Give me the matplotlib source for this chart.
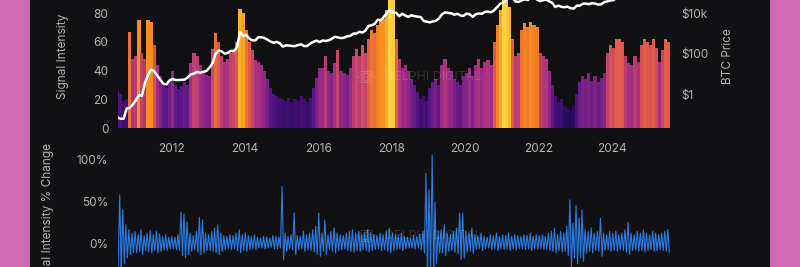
import numpy as np
import pandas as pd
import matplotlib
matplotlib.use("Agg")
import matplotlib.pyplot as plt
import matplotlib.dates as mdates
from matplotlib.colors import Normalize, LinearSegmentedColormap
from matplotlib.patches import Rectangle, Circle

plt.rcParams['font.family'] = ['Inter', 'DejaVu Sans']

# ============ data (monthly, Jul 2010 - Jul 2025) ============
signal = [
    # 2010 Jul-Dec
    26, 24, 19, 20, 67, 48,
    # 2011
    50, 75, 52, 48, 75, 74, 58, 44, 36, 30, 28, 33,
    # 2012
    40, 30, 27, 29, 32, 30, 45, 52, 50, 44, 40, 37,
    # 2013
    36, 55, 66, 60, 50, 46, 48, 52, 54, 60, 83, 80,
    # 2014
    68, 60, 54, 47, 46, 44, 40, 34, 28, 24, 22, 21,
    # 2015
    20, 19, 21, 18, 20, 19, 22, 20, 18, 21, 28, 35,
    # 2016
    42, 42, 50, 40, 38, 45, 54, 40, 38, 37, 42, 50,
    # 2017
    55, 50, 58, 52, 62, 68, 66, 72, 75, 76, 82, 92,
    # 2018
    90, 62, 48, 42, 44, 40, 34, 30, 25, 20, 22, 19,
    # 2019
    28, 32, 34, 30, 44, 48, 42, 40, 34, 32, 30, 36,
    # 2020
    38, 42, 36, 44, 48, 42, 46, 47, 44, 60, 72, 82,
    # 2021
    92, 90, 84, 62, 50, 52, 68, 73, 70, 74, 72, 70,
    # 2022
    52, 50, 48, 40, 30, 22, 18, 20, 15, 14, 12, 16,
    # 2023
    24, 32, 36, 34, 38, 33, 36, 32, 35, 38, 52, 58,
    # 2024
    56, 62, 62, 60, 50, 45, 44, 50, 46, 58, 62, 60,
    # 2025 Jan-Jul
    58, 62, 56, 46, 54, 62, 60,
]

btc_price = [
    0.07, 0.06, 0.06, 0.19, 0.21, 0.30,
    0.5, 0.9, 0.8, 3.5, 8.7, 16, 13.5, 8.2, 5.1, 3.2, 2.97, 4.7,
    5.5, 4.9, 4.9, 5.0, 5.2, 6.7, 9.4, 10.2, 12.4, 11.2, 12.6, 13.5,
    20, 33, 93, 139, 129, 97, 106, 135, 133, 198, 1130, 755,
    830, 550, 450, 445, 628, 640, 585, 480, 387, 338, 378, 320,
    217, 254, 244, 236, 230, 263, 284, 230, 236, 314, 377, 430,
    368, 437, 416, 448, 531, 673, 624, 575, 608, 700, 745, 964,
    970, 1190, 1080, 1350, 2300, 2480, 2875, 4700, 4340, 6470, 10200, 14150,
    10200, 10300, 6900, 9240, 7500, 6390, 7730, 7030, 6630, 6370, 4020, 3740,
    3460, 3850, 4100, 5350, 8570, 10800, 10080, 9630, 8290, 9200, 7550, 7190,
    9350, 8600, 6440, 8660, 9460, 9140, 11350, 11680, 10780, 13800, 19700, 29000,
    33100, 45100, 58900, 57700, 37300, 35000, 41600, 47100, 43800, 61300, 57000, 46300,
    38500, 43200, 45500, 37700, 31800, 19800, 23300, 20000, 19400, 20500, 17200, 16500,
    23100, 23150, 28500, 29300, 27200, 30500, 29200, 26000, 27000, 34500, 37700, 42300,
    42600, 61200, 71300, 60600, 67500, 62700, 64600, 59000, 63300, 70200, 96400, 93400,
    102400, 84300, 82500, 94200, 104600, 107100, 115000,
]

# signal intensity % change: largest rise / largest drop within each month
pct_up = [
    42, 58, 40, 22, 16, 12,
    14, 10, 16, 9, 12, 15, 10, 14, 11, 8, 10, 7,
    8, 7, 10, 37, 35, 25, 12, 9, 14, 31, 28, 12,
    10, 14, 18, 22, 12, 9, 8, 10, 9, 12, 16, 10,
    12, 9, 8, 10, 7, 6, 8, 7, 6, 9, 8, 7,
    68, 12, 8, 10, 36, 9, 8, 14, 10, 12, 16, 20,
    36, 12, 28, 10, 14, 18, 12, 10, 9, 12, 14, 16,
    12, 14, 10, 12, 16, 12, 10, 9, 12, 10, 14, 18,
    12, 10, 9, 12, 8, 7, 6, 9, 8, 10, 14, 84,
    64, 106, 49, 14, 16, 22, 12, 10, 14, 18, 36, 36,
    14, 12, 18, 10, 9, 12, 8, 7, 10, 9, 12, 8,
    10, 9, 12, 8, 10, 9, 8, 10, 9, 12, 8, 10,
    9, 10, 8, 12, 14, 18, 10, 14, 12, 20, 52, 24,
    45, 30, 40, 16, 14, 18, 12, 14, 30, 12, 10, 14,
    12, 14, 10, 12, 16, 25, 12, 10, 14, 12, 16, 12,
    10, 14, 12, 10, 12, 14, 16,
]
pct_down = [
    -30, -35, -25, -18, -14, -12,
    -12, -10, -14, -9, -11, -12, -9, -12, -10, -8, -9, -7,
    -7, -8, -9, -15, -18, -14, -10, -8, -11, -14, -12, -9,
    -9, -10, -12, -14, -10, -8, -7, -8, -7, -9, -12, -9,
    -10, -8, -7, -8, -6, -6, -7, -6, -5, -7, -7, -6,
    -20, -10, -7, -8, -14, -8, -7, -10, -8, -9, -11, -14,
    -16, -10, -14, -8, -10, -12, -9, -8, -7, -9, -10, -11,
    -9, -10, -8, -9, -11, -9, -8, -7, -9, -8, -10, -12,
    -9, -8, -7, -9, -7, -6, -6, -7, -6, -8, -12, -35,
    -30, -40, -25, -12, -12, -15, -10, -9, -11, -13, -20, -18,
    -11, -10, -13, -8, -7, -9, -7, -6, -8, -7, -9, -7,
    -8, -7, -9, -7, -8, -7, -7, -8, -7, -9, -7, -8,
    -7, -8, -7, -9, -10, -12, -9, -11, -10, -15, -30, -18,
    -25, -18, -22, -12, -10, -12, -9, -10, -16, -9, -8, -10,
    -9, -10, -8, -9, -11, -14, -9, -8, -10, -9, -11, -9,
    -8, -10, -9, -8, -9, -10, -11,
]

months = pd.date_range('2010-07-01', periods=len(signal), freq='MS')
mid = months + pd.Timedelta(days=15)

# ============ figure ============
W, H = 800, 267
fig = plt.figure(figsize=(W / 100, H / 100), dpi=100, facecolor='#d06ab3')
# dark card behind the charts (pink page shows at the sides)
fig.patches.append(Rectangle((30 / W, 0), 740 / W, 1, transform=fig.transFigure,
                             facecolor='#111113', edgecolor='none', zorder=-5))

TXT = '#b4b4b4'
FS = 8.5

def px_box(x0, x1, ytop, ybot):
    return [x0 / W, 1 - ybot / H, (x1 - x0) / W, (ybot - ytop) / H]

# heat colours: indigo -> purple -> magenta -> coral -> orange -> yellow
heat = LinearSegmentedColormap.from_list('heat', [
    (0.00, '#14083a'), (0.15, '#2c0c62'), (0.28, '#5a1688'), (0.45, '#a42e84'),
    (0.60, '#e0574f'), (0.74, '#f78a1e'), (0.88, '#fdc630'), (1.00, '#fde868'),
])

# --- top: signal bars + btc price ---
ax = fig.add_axes(px_box(118, 670, -15.75, 128))
ax.set_facecolor('none')
norm = Normalize(0, 100)
ax.bar(mid, signal, width=31, color=heat(norm(np.array(signal))), edgecolor='none', zorder=2)
ax.set_ylim(0, 100)
ax.set_yticks([0, 20, 40, 60, 80])
xmin, xmax = pd.Timestamp('2010-07-22'), pd.Timestamp('2025-07-30')
ax.set_xlim(xmin, xmax)
ax.set_xticks([pd.Timestamp(f'{y}-01-01') for y in range(2012, 2025, 2)])
ax.xaxis.set_major_formatter(mdates.DateFormatter('%Y'))

ax2 = ax.twinx()
ax2.plot(mid, btc_price, color='white', lw=1.8, zorder=3)
ax2.set_yscale('log')
ax2.set_ylim(10 ** -1.679, 10 ** 5.42)
ax2.set_yticks([1, 100, 10000])
ax2.set_yticklabels(['$1', '$100', '$10k'])
ax2.minorticks_off()

for a in (ax, ax2):
    for s in a.spines.values():
        s.set_visible(False)
    a.tick_params(length=0, colors=TXT, labelsize=FS)
ax.tick_params(axis='y', pad=7)
ax.tick_params(axis='x', pad=11)
ax2.tick_params(axis='y', pad=8)

# --- bottom: % change ---
bx = fig.add_axes(px_box(118, 670, 151.7, 284.5))
bx.set_facecolor('none')
t_up = months + pd.Timedelta(days=7)
t_dn = months + pd.Timedelta(days=22)
t_all = np.empty(2 * len(months), dtype='datetime64[ns]')
t_all[0::2] = t_up.values
t_all[1::2] = t_dn.values
v_all = np.empty(2 * len(months))
v_all[0::2] = pct_up
v_all[1::2] = pct_down
bx.plot(t_all, v_all, color='#2a7be4', lw=0.8)
bx.set_xlim(xmin, xmax)
bx.set_ylim(-50, 110)
bx.set_yticks([0, 50, 100])
bx.set_yticklabels(['0%', '50%', '100%'])
bx.set_xticks([])
for s in bx.spines.values():
    s.set_visible(False)
bx.tick_params(length=0, colors=TXT, labelsize=FS, pad=7)

# axis titles
fig.text(63 / W, 1 - 56 / H, 'Signal Intensity', rotation=90, ha='center', va='center',
         color=TXT, fontsize=FS)
fig.text(728 / W, 1 - 56 / H, 'BTC Price', rotation=90, ha='center', va='center',
         color=TXT, fontsize=FS)
fig.text(48 / W, 1 - 216 / H, 'Signal Intensity % Change', rotation=90, ha='center',
         va='center', color=TXT, fontsize=FS)

# faint watermark
for yy in (77, 236):
    fig.text(385 / W, 1 - yy / H, 'DELPHI DIGITAL', color='white', alpha=0.14,
             fontsize=9, ha='left', va='center', zorder=5)
    for k in range(6):
        ang = k * np.pi / 3
        fig.patches.append(Circle(((366 + 5 * np.cos(ang)) / W, 1 - (yy + 5 * np.sin(ang)) / H),
                                  4 / W, transform=fig.transFigure, fill=False,
                                  edgecolor='white', alpha=0.12, lw=0.8, zorder=5))

fig.savefig('out.png', dpi=100, facecolor=fig.get_facecolor())
